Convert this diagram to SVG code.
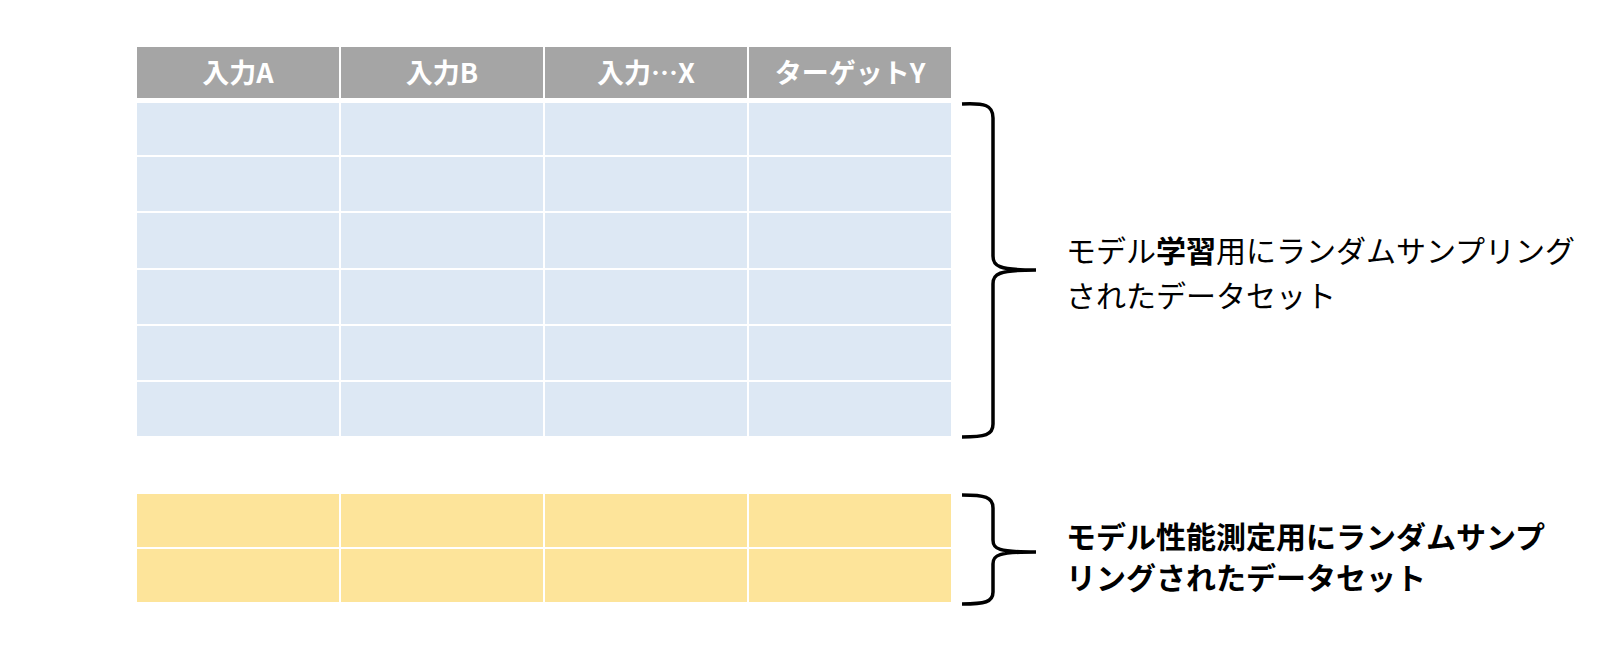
<svg xmlns="http://www.w3.org/2000/svg" width="1616" height="656" viewBox="0 0 1616 656">
<style>
.h{fill:#a5a5a5}.b{fill:#dde8f4}.y{fill:#fde49a}
.ht{font-family:"Noto Sans CJK JP","Noto Sans",sans-serif;font-size:27px;font-weight:bold;fill:#fff;text-anchor:middle}
.t{font-family:"Noto Sans CJK JP","Noto Sans",sans-serif;font-size:30px;fill:#000}
.br{fill:none;stroke:#000;stroke-width:3.5}
</style>
<rect width="1616" height="656" fill="#fff"/>
<g id="header">
<rect class="h" x="137" y="47" width="202" height="51"/><rect class="h" x="341" y="47" width="202" height="51"/>
<rect class="h" x="545" y="47" width="202" height="51"/><rect class="h" x="749" y="47" width="202" height="51"/>
<text class="ht" x="238" y="83">入力A</text><text class="ht" x="442" y="83">入力B</text>
<text class="ht" x="646" y="83">入力…X</text><text class="ht" x="850" y="83">ターゲットY</text>
</g>
<g id="train-rows">
<g class="b">
<rect x="137" y="103" width="202" height="52"/><rect x="341" y="103" width="202" height="52"/><rect x="545" y="103" width="202" height="52"/><rect x="749" y="103" width="202" height="52"/>
<rect x="137" y="157" width="202" height="54"/><rect x="341" y="157" width="202" height="54"/><rect x="545" y="157" width="202" height="54"/><rect x="749" y="157" width="202" height="54"/>
<rect x="137" y="213" width="202" height="55"/><rect x="341" y="213" width="202" height="55"/><rect x="545" y="213" width="202" height="55"/><rect x="749" y="213" width="202" height="55"/>
<rect x="137" y="270" width="202" height="54"/><rect x="341" y="270" width="202" height="54"/><rect x="545" y="270" width="202" height="54"/><rect x="749" y="270" width="202" height="54"/>
<rect x="137" y="326" width="202" height="54"/><rect x="341" y="326" width="202" height="54"/><rect x="545" y="326" width="202" height="54"/><rect x="749" y="326" width="202" height="54"/>
<rect x="137" y="382" width="202" height="54"/><rect x="341" y="382" width="202" height="54"/><rect x="545" y="382" width="202" height="54"/><rect x="749" y="382" width="202" height="54"/>
</g>
</g>
<g id="test-rows">
<g class="y">
<rect x="137" y="494" width="202" height="53"/><rect x="341" y="494" width="202" height="53"/><rect x="545" y="494" width="202" height="53"/><rect x="749" y="494" width="202" height="53"/>
<rect x="137" y="549" width="202" height="53"/><rect x="341" y="549" width="202" height="53"/><rect x="545" y="549" width="202" height="53"/><rect x="749" y="549" width="202" height="53"/>
</g>
</g>
<g id="connectors">
<path class="br" d="M962,104 C985,103 993,105 993,118 L993,256 C993,266 998,270 1036,270 C998,270 993,274 993,284 L993,424 C993,435 985,437 962,437"/>
<path class="br" d="M962,495 C985,495 993,497 993,508 L993,540 C993,549 998,552 1036,552 C998,552 993,555 993,564 L993,592 C993,602 985,604 962,604"/>
</g>
<g id="label-train">
<text class="t" x="1066" y="262">モデル<tspan font-weight="bold">学習</tspan>用にランダムサンプリング</text>
<text class="t" x="1066" y="307">されたデータセット</text>
</g>
<g id="label-test">
<text class="t" x="1066" y="548" font-weight="bold" font-size="29">モデル性能測定用にランダムサンプ</text>
<text class="t" x="1066" y="589" font-weight="bold" font-size="29">リングされたデータセット</text>
</g>
</svg>
